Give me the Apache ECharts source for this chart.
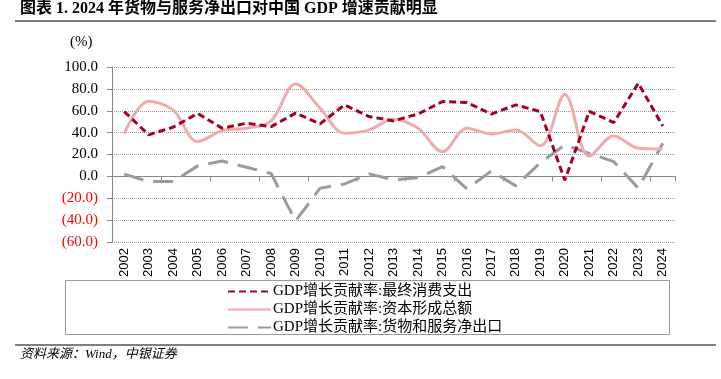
<!DOCTYPE html>
<html>
<head>
<meta charset="utf-8">
<script src="https://cdn.jsdelivr.net/npm/echarts@6/dist/echarts.min.js"></script>
<style>
html,body{margin:0;padding:0;background:#fff;}
#c{width:721px;height:379px;}
</style>
</head>
<body>
<div id="c"></div>
<script>
const years = ['2002','2003','2004','2005','2006','2007','2008','2009','2010','2011','2012','2013','2014','2015','2016','2017','2018','2019','2020','2021','2022','2023','2024'];
const consumption = [59.2, 38.0, 45.0, 57.5, 44.0, 48.6, 45.5, 57.8, 48.0, 65.4, 54.7, 50.7, 57.0, 68.4, 67.5, 57.0, 65.4, 59.2, -3.5, 59.5, 49.2, 85.2, 46.0];
const capital = [39.2, 68.8, 60.5, 31.8, 41.8, 44.0, 50.8, 84.5, 62.3, 39.5, 42.5, 52.3, 44.0, 22.7, 44.0, 38.8, 42.5, 27.9, 74.8, 18.5, 37.0, 25.8, 25.1];
const netExports = [2.1, -4.8, -4.7, 9.6, 14.0, 8.4, 2.6, -40.8, -10.8, -6.9, 2.3, -3.2, -1.2, 9.0, -11.4, 5.0, -8.7, 12.5, 28.8, 21.0, 13.5, -10.8, 30.3];
const seriesNames = ['GDP增长贡献率:最终消费支出', 'GDP增长贡献率:资本形成总额', 'GDP增长贡献率:货物和服务净出口'];
const titleText = '图表 1. 2024 年货物与服务净出口对中国 GDP 增速贡献明显';
const unitText = '(%)';
const sourceText = '资料来源：Wind，中银证券';

const serif = '"Liberation Serif", "Times New Roman", "Noto Sans CJK SC", serif';
const sans = '"Liberation Sans", Arial, sans-serif';

const chart = echarts.init(document.getElementById('c'), null, {renderer: 'canvas'});
chart.setOption({
  animation: false,
  backgroundColor: '#fff',
  grid: {left: 112, right: 46, top: 67, bottom: 137},
  xAxis: [{
    type: 'category', data: years, position: 'bottom',
    boundaryGap: true,
    axisLine: {onZero: true, lineStyle: {color: '#888', width: 1}},
    axisTick: {show: true, length: 5, lineStyle: {color: '#888'}},
    axisLabel: {show: false},
    splitLine: {show: false}
  }, {
    type: 'category', data: years, position: 'bottom',
    axisLine: {show: false, onZero: false},
    axisTick: {show: false},
    axisLabel: {rotate: 90, margin: 6, fontFamily: sans, fontSize: 13, color: '#000'},
    splitLine: {show: false}
  }],
  yAxis: {
    type: 'value', min: -60, max: 100, interval: 20,
    axisLine: {show: true, lineStyle: {color: '#888'}},
    axisTick: {show: true, length: 5, lineStyle: {color: '#888'}},
    splitLine: {show: true, lineStyle: {color: '#999', type: 'dotted', width: 1}},
    axisLabel: {
      margin: 14,
      fontFamily: serif, fontSize: 15,
      formatter: function (v) {
        if (v < 0) return '{n|(' + Math.abs(v).toFixed(1) + ')}';
        return '{p|' + v.toFixed(1) + '}';
      },
      rich: {
        n: {color: '#ff0000', fontFamily: serif, fontSize: 15},
        p: {color: '#000', fontFamily: serif, fontSize: 15}
      }
    }
  },
  legend: {
    orient: 'vertical', left: 222, top: 279,
    itemWidth: 43, itemHeight: 14, itemGap: 3,
    itemStyle: {opacity: 0},
    textStyle: {fontFamily: serif, fontSize: 15, color: '#000', padding: [0,0,0,-3]},
    data: seriesNames
  },
  series: [{
    name: seriesNames[0], type: 'line', data: consumption, symbol: 'none',
    lineStyle: {color: '#A50021', width: 3, type: [7, 4]},
    itemStyle: {color: '#A50021'}, z: 4
  }, {
    name: seriesNames[1], type: 'line', data: capital, symbol: 'none', smooth: 0.35,
    lineStyle: {color: '#F0ABAB', width: 3, type: 'solid'},
    itemStyle: {color: '#F0ABAB'}, z: 3
  }, {
    name: seriesNames[2], type: 'line', data: netExports, symbol: 'none',
    lineStyle: {color: '#9B9B9B', width: 3, type: [20, 10]},
    itemStyle: {color: '#9B9B9B'}, z: 2
  }],
  graphic: [
    {type: 'text', left: 20, top: 1, style: {text: titleText, font: 'bold 16px ' + serif, fill: '#000'}},
    {type: 'line', shape: {x1: 15, y1: 21, x2: 716, y2: 21}, style: {stroke: '#7a7a7a', lineWidth: 2}},
    {type: 'text', left: 70, top: 35, style: {text: unitText, font: '15px ' + serif, fill: '#000'}},
    {type: 'rect', shape: {x: 65.5, y: 280.5, width: 604, height: 54}, style: {fill: 'none', stroke: '#999', lineWidth: 1}},
    {type: 'line', shape: {x1: 15, y1: 345, x2: 716, y2: 345}, style: {stroke: '#555', lineWidth: 1.5}},
    {type: 'text', left: 20, top: 348, style: {text: sourceText, font: 'italic 13px ' + serif, fill: '#000'}}
  ]
});
</script>
</body>
</html>
